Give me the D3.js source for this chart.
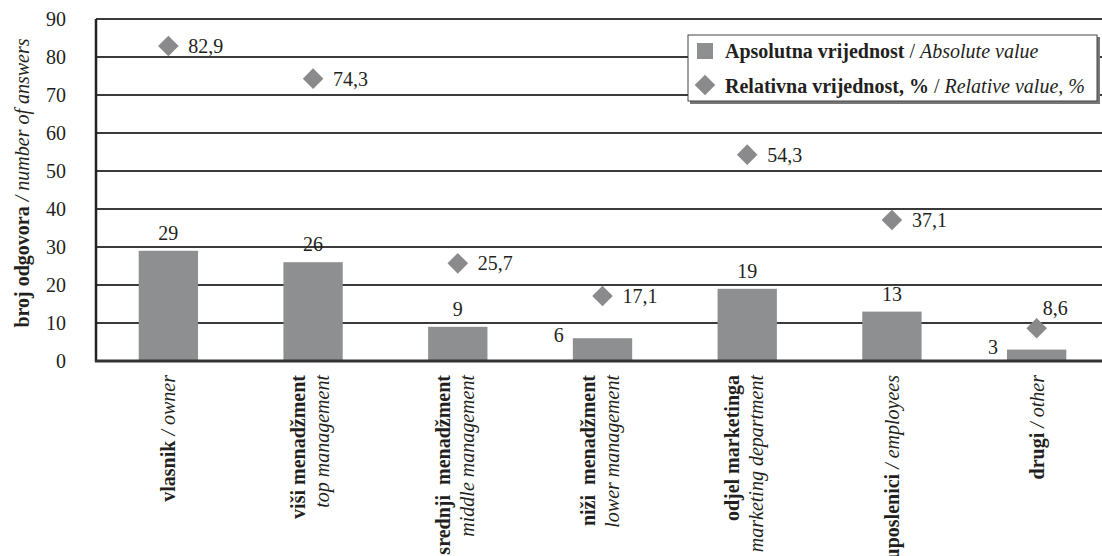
<!DOCTYPE html>
<html>
<head>
<meta charset="utf-8">
<script src="https://cdn.jsdelivr.net/npm/d3@7"></script>
<style>
  html, body { margin: 0; padding: 0; background: #fff; }
  svg { display: block; }
</style>
</head>
<body>
<svg id="chart" width="1102" height="556"></svg>
<script>
/* ── Data ─────────────────────────────────────────────── */
const categoriesHr = ["vlasnik", "viši menadžment", "srednji  menadžment", "niži  menadžment",
                      "odjel marketinga", "uposlenici", "drugi"];
const categoriesEn = ["owner", "top management", "middle management", "lower management",
                      "marketing department", "employees", "other"];
const absoluteValues = [29, 26, 9, 6, 19, 13, 3];
const relativeValues = [82.9, 74.3, 25.7, 17.1, 54.3, 37.1, 8.6];
const yTicks = [0, 10, 20, 30, 40, 50, 60, 70, 80, 90];

/* ── Layout ───────────────────────────────────────────── */
const W = 1102, H = 556;
const plotL = 96, plotR = 1109, plotT = 19, plotB = 361;
const BAR = "#8e8f91", DIAMOND = "#8a8a8c", LINE = "#3a3a3a", INK = "#231f20";
const FONT = "Liberation Serif", FS = 20;

const svg = d3.select("#chart").attr("font-family", FONT);
const x = d3.scaleBand().domain(d3.range(categoriesHr.length)).range([plotL, plotR]).paddingInner(0.59).paddingOuter(0.295);
const y = d3.scaleLinear().domain([0, 90]).range([plotB, plotT]);
const fmt = v => String(v).replace(".", ",");

/* gridlines */
svg.append("g")
  .selectAll("line")
  .data(yTicks.filter(t => t > 0))
  .join("line")
  .attr("x1", plotL).attr("x2", W)
  .attr("y1", d => y(d)).attr("y2", d => y(d))
  .attr("stroke", LINE).attr("stroke-width", 2);

/* y axis tick labels */
const yAxis = svg.append("g")
  .attr("transform", `translate(${plotL},0)`)
  .call(d3.axisLeft(y).tickValues(yTicks).tickSize(0).tickPadding(30));
yAxis.attr("font-family", FONT).attr("font-size", FS);
yAxis.select(".domain").remove();
yAxis.selectAll("text").attr("fill", INK);

/* bars */
svg.append("g")
  .selectAll("rect")
  .data(absoluteValues)
  .join("rect")
  .attr("x", (d, i) => x(i))
  .attr("width", x.bandwidth())
  .attr("y", d => y(d))
  .attr("height", d => plotB - y(d))
  .attr("fill", BAR);

/* axis frame */
svg.append("line").attr("x1", plotL).attr("x2", plotL).attr("y1", plotT).attr("y2", plotB + 1)
  .attr("stroke", "#222").attr("stroke-width", 2.5);
svg.append("line").attr("x1", plotL - 1).attr("x2", W).attr("y1", plotB).attr("y2", plotB)
  .attr("stroke", "#333").attr("stroke-width", 3);

/* bar labels: small bars get the label left of the bar top */
svg.append("g")
  .selectAll("text")
  .data(absoluteValues)
  .join("text")
  .attr("x", (d, i) => d < 8 ? x(i) - 14 : x(i) + x.bandwidth() / 2)
  .attr("y", d => d < 8 ? y(d) + 4 : y(d) - 11)
  .attr("text-anchor", "middle")
  .attr("font-size", FS).attr("fill", INK)
  .text(d => d);

/* diamonds */
const diamond = d3.symbol().type(d3.symbolDiamond2).size(270);
const cx = i => x(i) + x.bandwidth() / 2;
svg.append("g")
  .selectAll("path")
  .data(relativeValues)
  .join("path")
  .attr("transform", (d, i) => `translate(${cx(i)},${y(d)})`)
  .attr("d", diamond)
  .attr("fill", DIAMOND);

const last = relativeValues.length - 1;
svg.append("g")
  .selectAll("text")
  .data(relativeValues)
  .join("text")
  .attr("x", (d, i) => i === last ? cx(i) + 6 : cx(i) + 20)
  .attr("y", d => y(d))
  .attr("dy", (d, i) => i === last ? -13 : 7)
  .attr("font-size", FS).attr("fill", INK)
  .text(d => fmt(d));

/* x labels, rotated */
const xl = svg.append("g").attr("fill", INK);
categoriesHr.forEach((hr, i) => {
  const en = categoriesEn[i];
  const oneLine = hr.length + en.length < 26;
  const g = xl.append("g").attr("transform", `translate(${cx(i)},375) rotate(-90)`);
  if (oneLine) {
    const t = g.append("text").attr("x", 0).attr("y", 7).attr("text-anchor", "end").attr("font-size", FS);
    t.append("tspan").attr("font-weight", "bold").text(hr);
    t.append("tspan").attr("font-style", "italic").text(" / " + en);
  } else {
    g.append("text").attr("x", 0).attr("y", -8).attr("text-anchor", "end")
      .attr("font-size", FS).attr("font-weight", "bold").attr("xml:space", "preserve").text(hr);
    g.append("text").attr("x", 0).attr("y", 16).attr("text-anchor", "end")
      .attr("font-size", FS).attr("font-style", "italic").text(en);
  }
});

/* y axis title */
const yt = svg.append("text")
  .attr("transform", "translate(29,183) rotate(-90)")
  .attr("text-anchor", "middle").attr("font-size", FS).attr("fill", INK);
yt.append("tspan").attr("font-weight", "bold").text("broj odgovora");
yt.append("tspan").attr("font-style", "italic").text(" / number of answers");

/* legend */
const lg = svg.append("g").attr("transform", "translate(688,35)").attr("fill", INK);
lg.append("rect").attr("x", 2).attr("y", 2).attr("width", 410).attr("height", 67).attr("fill", "#777");
lg.append("rect").attr("width", 409).attr("height", 66).attr("fill", "#fff").attr("stroke", "#444").attr("stroke-width", 1);
lg.append("rect").attr("x", 9).attr("y", 8).attr("width", 16).attr("height", 16).attr("fill", BAR);
lg.append("path").attr("transform", "translate(17,50)").attr("d", diamond).attr("fill", DIAMOND);
const l1 = lg.append("text").attr("x", 37).attr("y", 23).attr("font-size", FS);
l1.append("tspan").attr("font-weight", "bold").text("Apsolutna vrijednost");
l1.append("tspan").text(" / ");
l1.append("tspan").attr("font-style", "italic").text("Absolute value");
const l2 = lg.append("text").attr("x", 37).attr("y", 58).attr("font-size", FS);
l2.append("tspan").attr("font-weight", "bold").text("Relativna vrijednost, %");
l2.append("tspan").text(" / ");
l2.append("tspan").attr("font-style", "italic").text("Relative value, %");
</script>
</body>
</html>
